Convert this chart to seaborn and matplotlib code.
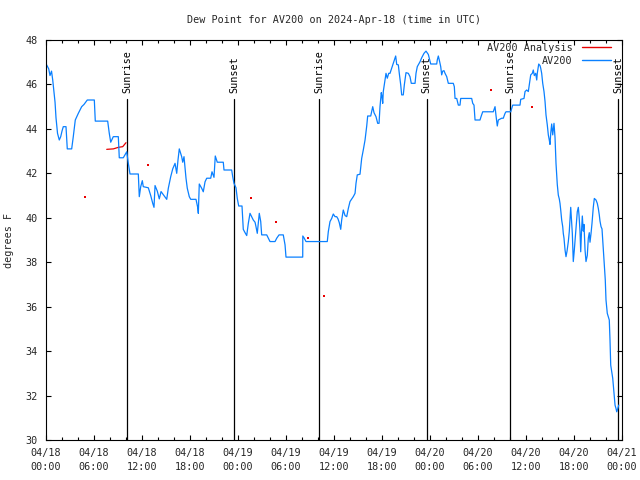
import numpy as np
import pandas as pd
import matplotlib
matplotlib.use("Agg")
import matplotlib.pyplot as plt
import matplotlib.dates as mdates
import matplotlib.transforms as mtransforms
import seaborn as sns

# ---------------- data (hours since 2024-04-18 00:00 UTC) ----------------
start = "2024-04-18 00:00"

av200_hours = [
    0.05, 0.34, 0.5, 0.69, 0.84, 1.13, 1.25, 1.44, 1.66, 1.84, 2.0, 2.16, 2.5, 2.66,
    3.21, 3.41, 3.66, 4.04, 4.46, 4.75, 5.16, 6.04, 6.16, 7.71, 7.91, 8.09, 8.41,
    9.04, 9.16, 9.66, 10.09, 10.29, 10.5, 11.54, 11.66, 11.84, 12.04, 12.16, 12.79,
    13.09, 13.34, 13.5, 13.63, 13.91, 14.16, 14.38, 14.75, 15.09, 15.29, 15.59,
    15.84, 16.13, 16.34, 16.5, 16.66, 16.96, 17.09, 17.25, 17.5, 17.66, 17.91,
    18.09, 18.75, 18.96, 19.04, 19.16, 19.46, 19.66, 19.88, 20.09, 20.59, 20.75,
    21.0, 21.16, 21.41, 22.16, 22.25, 23.21, 23.34, 23.5, 23.75, 23.91, 24.09,
    24.5, 24.66, 24.88, 25.09, 25.29, 25.5, 25.71, 25.91, 26.13, 26.25, 26.41,
    26.66, 26.84, 26.96, 27.59, 27.79, 28.0, 28.63, 28.84, 29.13, 29.66, 29.88,
    30.0, 32.09, 32.1, 32.25, 32.5, 35.16, 35.29, 35.5, 35.71, 35.91, 36.13,
    36.34, 36.5, 36.66, 36.84, 36.96, 37.16, 37.38, 37.59, 37.79, 38.0, 38.41,
    38.63, 38.75, 38.91, 39.25, 39.46, 39.66, 39.88, 40.09, 40.21, 40.59, 40.84,
    41.0, 41.25, 41.46, 41.63, 41.75, 41.91, 42.0, 42.09, 42.16, 42.34, 42.5,
    42.66, 42.84, 43.0, 43.21, 43.41, 43.71, 43.84, 44.04, 44.16, 44.34, 44.46,
    44.66, 44.79, 45.0, 45.29, 45.5, 45.66, 46.13, 46.25, 46.41, 46.75, 46.96,
    47.25, 47.5, 47.79, 47.91, 48.09, 48.84, 48.91, 49.04, 49.16, 49.34, 49.46,
    49.59, 49.75, 49.88, 50.09, 50.29, 50.91, 51.04, 51.13, 51.34, 51.54, 51.75,
    51.84, 53.21, 53.34, 53.5, 53.63, 54.25, 54.38, 54.59, 55.91, 56.13, 56.25,
    56.41, 56.54, 56.96, 57.16, 57.38, 57.5, 58.09, 58.34, 59.25, 59.34, 59.75,
    59.88, 60.09, 60.29, 60.41, 60.59, 60.79, 60.91, 61.04, 61.21, 61.34, 61.41,
    61.59, 61.75, 61.84, 61.96, 62.09, 62.25, 62.38, 62.5, 62.66, 62.79, 62.91,
    63.0, 63.09, 63.21, 63.34, 63.5, 63.63, 63.75, 63.91, 64.04, 64.16, 64.25,
    64.34, 64.46, 64.59, 64.66, 64.75, 64.88, 65.0, 65.13, 65.29, 65.41, 65.5,
    65.59, 65.69, 65.79, 65.91, 66.04, 66.16, 66.34, 66.41, 66.54, 66.63, 66.75,
    66.84, 66.94, 67.04, 67.16, 67.25, 67.38, 67.5, 67.66, 67.79, 67.91, 68.0,
    68.13, 68.25, 68.41, 68.54, 68.75, 68.91, 69.04, 69.16, 69.25, 69.38, 69.5,
    69.59, 69.75, 69.91, 70.0, 70.16, 70.29, 70.41, 70.5, 70.59, 70.71, 70.84,
    71.0, 71.13, 71.25, 71.34, 71.46, 71.59,
]
av200_dewpoint = [
    46.9, 46.7, 46.4, 46.6, 46.2, 45.2, 44.5, 43.8, 43.5, 43.65, 43.9, 44.1, 44.1, 43.1,
    43.1, 43.65, 44.4, 44.7, 45.0, 45.1, 45.3, 45.3, 44.35, 44.35, 43.8, 43.4, 43.65,
    43.65, 42.7, 42.7, 42.97, 42.45, 41.97, 41.97, 40.95, 41.4, 41.67, 41.4, 41.35,
    41.0, 40.65, 40.47, 41.45, 41.2, 40.85, 41.18, 41.0, 40.83, 41.33, 41.85,
    42.2, 42.45, 42.0, 42.6, 43.1, 42.75, 42.5, 42.75, 41.78, 41.33, 40.95,
    40.83, 40.83, 40.47, 40.2, 41.52, 41.33, 41.17, 41.62, 41.78, 41.78, 42.07,
    41.82, 42.78, 42.5, 42.5, 42.15, 42.15, 41.85, 41.55, 41.35, 40.87, 40.53,
    40.53, 39.48, 39.33, 39.2, 39.75, 40.2, 40.05, 39.9, 39.8, 39.6, 39.3,
    40.2, 39.83, 39.23, 39.23, 39.08, 38.93, 38.93, 39.08, 39.23, 39.23, 38.78,
    38.23, 38.23, 39.18, 39.1, 38.93, 38.93, 39.38, 39.83, 39.97, 40.17, 40.05,
    40.05, 39.95, 39.78, 39.48, 39.9, 40.35, 40.1, 40.05, 40.42, 40.73, 40.95,
    41.1, 41.55, 41.93, 41.96, 42.67, 43.05, 43.5, 44.13, 44.58, 44.58, 45.0,
    44.73, 44.55, 44.25, 44.25, 45.0, 45.63, 45.45, 45.15, 45.68, 46.13, 46.5,
    46.28, 46.5, 46.5, 46.73, 46.95, 47.28, 46.9, 46.88, 46.5, 45.98, 45.53,
    45.53, 45.98, 46.53, 46.5, 46.35, 46.05, 46.05, 46.5, 46.8, 47.02, 47.2,
    47.4, 47.5, 47.35, 47.18, 46.92, 46.92, 47.1, 47.28, 47.1, 46.8, 46.43,
    46.6, 46.62, 46.5, 46.35, 46.05, 46.05, 45.9, 45.37, 45.37, 45.07, 45.07,
    45.37, 45.37, 45.15, 45.07, 44.4, 44.4, 44.55, 44.77, 44.77, 45.0, 44.6,
    44.13, 44.4, 44.48, 44.48, 44.7, 44.77, 44.77, 45.07, 45.07, 45.33, 45.37,
    45.68, 45.75, 45.68, 45.98, 46.43, 46.5, 46.65, 46.4, 46.5, 46.2, 46.5,
    46.92, 46.85, 46.73, 46.5, 46.05, 45.68, 45.23, 44.63, 44.18, 43.73, 43.5,
    43.3, 43.8, 44.22, 43.73, 44.25, 43.6, 42.45, 41.5, 41.02, 40.85, 40.65,
    40.35, 39.9, 39.6, 39.3, 39.08, 38.55, 38.25, 38.5, 38.93, 39.38, 39.97,
    40.47, 39.9, 39.3, 38.03, 38.55, 39.1, 39.87, 40.27, 40.47, 40.1, 39.4,
    38.47, 39.4, 40.08, 39.4, 39.7, 38.55, 38.03, 38.3, 39.08, 39.33, 38.9,
    39.3, 39.75, 40.47, 40.87, 40.8, 40.65, 40.42, 40.13, 39.85, 39.6, 39.5,
    39.0, 38.1, 37.2, 36.3, 35.7, 35.55, 35.4, 34.5, 33.37, 33.1, 32.78,
    32.1, 31.57, 31.42, 31.27, 31.4, 31.57,
]

analysis_line_hours = [7.59, 8.42, 9.04, 9.59, 9.75, 10.0]
analysis_line_dewpoint = [43.08, 43.1, 43.17, 43.2, 43.27, 43.38]
analysis_point_hours = [4.9, 12.7, 25.6, 28.7, 32.7, 34.8, 55.6, 60.8]
analysis_point_dewpoint = [40.92, 42.36, 40.9, 39.8, 39.08, 36.48, 45.75, 44.97]

sun_event_hours = [10.15, 23.55, 34.15, 47.6, 58.05, 71.55]
sun_event_labels = ["Sunrise", "Sunset", "Sunrise", "Sunset", "Sunrise", "Sunset"]

title = "Dew Point for AV200 on 2024-Apr-18 (time in UTC)"
y_label = "degrees F"
y_ticks = [30, 32, 34, 36, 38, 40, 42, 44, 46, 48]

# ---------------- styling ----------------
sns.set_theme(style="ticks")
plt.rcParams["font.family"] = ["DejaVu Sans Mono"]
plt.rcParams["font.size"] = 7.3

blue = "#0a80ff"
red = "#e80000"

t0 = pd.Timestamp(start)
to_time = lambda hrs: t0 + pd.to_timedelta(np.asarray(hrs, dtype=float), unit="h")

av200 = pd.DataFrame({"time": to_time(av200_hours), "dewpoint": av200_dewpoint})
analysis_line = pd.DataFrame({"time": to_time(analysis_line_hours), "dewpoint": analysis_line_dewpoint})
analysis_pts = pd.DataFrame({"time": to_time(analysis_point_hours), "dewpoint": analysis_point_dewpoint})

fig = plt.figure(figsize=(6.4, 4.8), dpi=100)
ax = fig.add_axes([46 / 640, 40 / 480, 576 / 640, 400 / 480])
ax.set_facecolor("white")

sns.lineplot(data=analysis_line, x="time", y="dewpoint", ax=ax, color=red, lw=0.9,
             label="AV200 Analysis", sort=False, estimator=None)
sns.scatterplot(data=analysis_pts, x="time", y="dewpoint", ax=ax, color=red,
                marker="s", s=2.5, linewidth=0, legend=False)
sns.lineplot(data=av200, x="time", y="dewpoint", ax=ax, color=blue, lw=0.9,
             label="AV200", sort=False, estimator=None)

trans = mtransforms.blended_transform_factory(ax.transData, ax.transAxes)
for h, lab in zip(sun_event_hours, sun_event_labels):
    t = mdates.date2num(to_time([h])[0])
    ax.axvline(t, ymin=0, ymax=0.8525, color="black", lw=0.9, zorder=1)
    ax.text(t, 0.868, lab, transform=trans, rotation=90, ha="center", va="bottom",
            fontsize=7.3, color="black")

ax.set_xlim(t0, t0 + pd.Timedelta(hours=72))
ax.set_ylim(30, 48)
ax.set_yticks(y_ticks)
ax.xaxis.set_major_locator(mdates.HourLocator(byhour=[0, 6, 12, 18]))
ax.xaxis.set_minor_locator(mdates.HourLocator(byhour=list(range(0, 24, 2))))
ax.xaxis.set_major_formatter(mdates.DateFormatter("%m/%d\n%H:%M"))
for lbl in ax.get_xticklabels():
    lbl.set_linespacing(1.5)

ax.tick_params(axis="both", which="both", direction="in", top=True, right=True,
               color="black", width=0.8)
ax.tick_params(axis="x", which="major", length=3.5, pad=6, labelsize=7.3)
ax.tick_params(axis="x", which="minor", length=2.2)
ax.tick_params(axis="y", which="major", length=3.5, pad=6, labelsize=7.3)
for s in ax.spines.values():
    s.set_visible(True)
    s.set_color("black")
    s.set_linewidth(0.8)

ax.set_xlabel("")
ax.set_ylabel(y_label, fontsize=7.3, labelpad=8)
ax.set_title(title, fontsize=7.3, pad=12)

leg = ax.legend(loc="upper right", bbox_to_anchor=(1 - 11 / 576, 1 - 3 / 400),
                frameon=False, markerfirst=False, borderpad=0, borderaxespad=0,
                handlelength=2.9, handletextpad=0.9, labelspacing=0.3, fontsize=7.3)
for line in leg.get_lines():
    line.set_linewidth(1.0)

fig.savefig("out.png", dpi=100)
